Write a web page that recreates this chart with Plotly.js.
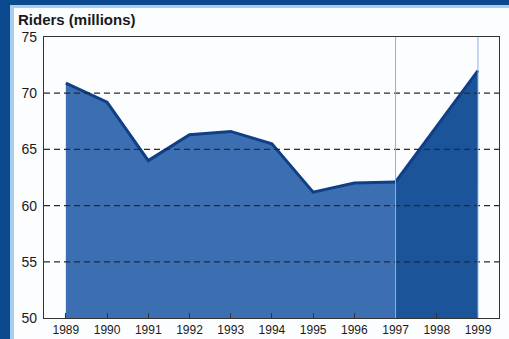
<!DOCTYPE html>
<html>
<head>
<meta charset="utf-8">
<script src="https://cdn.plot.ly/plotly-3.0.1.min.js"></script>
<style>html,body{margin:0;padding:0;background:#0b4a8e;}#chart{width:509px;height:339px;}</style>
</head>
<body>
<div id="chart"></div>
<script>
// Data
var yearsActual = [1989, 1990, 1991, 1992, 1993, 1994, 1995, 1996, 1997];
var ridersActual = [70.9, 69.2, 64.0, 66.3, 66.6, 65.5, 61.2, 62.0, 62.1];
var yearsProjected = [1997, 1998, 1999];
var ridersProjected = [62.1, 67.0, 72.0];
var xTickVals = [1989, 1990, 1991, 1992, 1993, 1994, 1995, 1996, 1997, 1998, 1999];
var yTickVals = [50, 55, 60, 65, 70, 75];
var gridVals = [55, 60, 65, 70];
var markerYears = [1997, 1999];

var lineColor = '#0f3f86';
var traces = [
  {x: yearsActual, y: ridersActual, type: 'scatter', mode: 'lines', fill: 'tozeroy',
   fillcolor: '#3c6fb2', line: {color: lineColor, width: 3}, hoverinfo: 'skip'},
  {x: yearsProjected, y: ridersProjected, type: 'scatter', mode: 'lines', fill: 'tozeroy',
   fillcolor: '#1b5498', line: {color: lineColor, width: 3}, hoverinfo: 'skip'}
];

var shapes = [
  // light strip + white panel (frame)
  {type: 'rect', xref: 'paper', yref: 'paper', x0: -34/455, x1: 470/455, y0: -30/281, y1: 313/281,
   fillcolor: '#a9cdef', line: {width: 0}, layer: 'below'},
  {type: 'rect', xref: 'paper', yref: 'paper', x0: -30/455, x1: 470/455, y0: -30/281, y1: 310/281,
   fillcolor: '#fbfdff', line: {width: 0}, layer: 'below'}
];
gridVals.forEach(function (v) {
  shapes.push({type: 'line', xref: 'paper', yref: 'y', x0: 0, x1: 1, y0: v, y1: v,
    line: {color: '#2a2a2a', width: 1.2, dash: '6px,4px'}, layer: 'above'});
});
markerYears.forEach(function (v) {
  shapes.push({type: 'line', xref: 'x', yref: 'paper', x0: v, x1: v, y0: 0, y1: 1,
    line: {color: '#8db2df', width: 1}, layer: 'above'});
});

var layout = {
  width: 509, height: 339,
  margin: {l: 44, r: 10, t: 37, b: 21},
  paper_bgcolor: '#0b4a8e',
  plot_bgcolor: 'rgba(0,0,0,0)',
  showlegend: false,
  font: {family: 'Liberation Sans, Arial, sans-serif', color: '#1a1a1a'},
  title: {text: '<b>Riders (millions)</b>', x: 18/509, xanchor: 'left', xref: 'container',
          y: 1 - 20/339, yanchor: 'middle', yref: 'container',
          font: {size: 15, color: '#1a1a1a', family: 'Liberation Sans, Arial, sans-serif'}},
  xaxis: {range: [1988.47, 1999.51], tickvals: xTickVals, ticktext: xTickVals.map(String),
          ticks: 'inside', ticklen: 5, tickcolor: '#333', tickwidth: 1,
          showline: true, linecolor: '#333', linewidth: 1.2, mirror: true,
          showgrid: false, zeroline: false, layer: 'above traces',
          tickfont: {size: 12, color: '#1a1a1a'}},
  yaxis: {range: [50, 75], tickvals: yTickVals, ticks: '',
          showline: true, linecolor: '#333', linewidth: 1.2, mirror: true,
          showgrid: false, zeroline: false, layer: 'above traces',
          ticklabelstandoff: 3,
          tickfont: {size: 14, color: '#1a1a1a'}},
  shapes: shapes
};

Plotly.newPlot('chart', traces, layout, {displayModeBar: false, staticPlot: true});
</script>
</body>
</html>
